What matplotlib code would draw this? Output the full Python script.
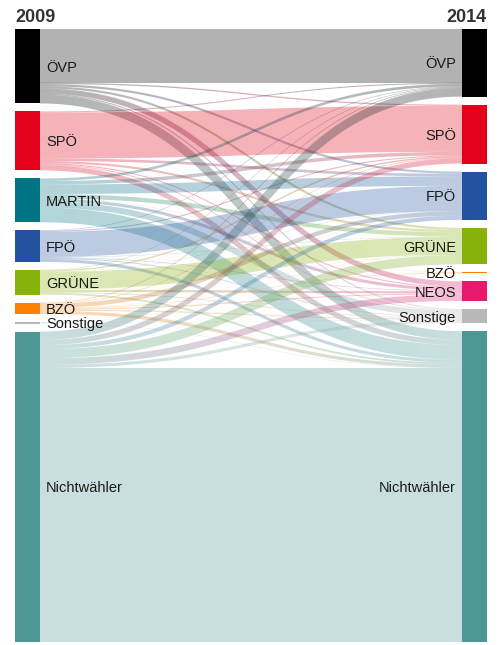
import numpy as np
import matplotlib
matplotlib.use("Agg")
import matplotlib.pyplot as plt
from matplotlib.collections import PolyCollection
from matplotlib.colors import to_rgb
from matplotlib.patches import Rectangle

# Wählerströme EU-Wahl 2009 -> 2014 (in 1000 Stimmen, geschätzt aus der Grafik)
parteien_2009 = ["ÖVP", "SPÖ", "MARTIN", "FPÖ", "GRÜNE", "BZÖ", "Sonstige", "Nichtwähler"]
parteien_2014 = ["ÖVP", "SPÖ", "FPÖ", "GRÜNE", "BZÖ", "NEOS", "Sonstige", "Nichtwähler"]
farben_2009 = ["#000000", "#e2001a", "#007482", "#2352a0", "#86b20b", "#ff8000", "#b8b8b8", "#4d9896"]
farben_2014 = ["#000000", "#e2001a", "#2352a0", "#86b20b", "#ff8000", "#e6196e", "#b8b8b8", "#4d9896"]

# Zeilen: Herkunft 2009, Spalten: Ziel 2014 (Reihenfolge wie parteien_2014)
von_oevp = [620, 15, 25, 25, 1, 60, 13, 100]
von_spoe = [12, 530, 30, 25, 1, 12, 10, 60]
von_martin = [30, 40, 110, 50, 2, 35, 69, 170]
von_fpoe = [6, 12, 290, 4, 1, 6, 10, 35]
von_gruene = [6, 15, 3, 205, 0.5, 26, 9.5, 20]
von_bzoe = [8, 6, 50, 2, 6, 10, 13, 36]
von_sonstige = [1, 2, 2, 4, 0.5, 1, 4.5, 4]
von_nichtwaehler = [97, 60, 47, 105, 1, 75, 36, 3160]

flows = np.array([von_oevp, von_spoe, von_martin, von_fpoe, von_gruene,
                  von_bzoe, von_sonstige, von_nichtwaehler], dtype=float)

W, H = 499, 645
fig = plt.figure(figsize=(W / 100, H / 100), dpi=100)
ax = fig.add_axes([0, 0, 1, 1])
ax.set_xlim(0, W)
ax.set_ylim(H, 0)
ax.axis("off")

top, bottom, pad = 29, 642, 8
xl0, xl1 = 15, 40      # Knoten links
xr0, xr1 = 462, 487    # Knoten rechts

out_tot = flows.sum(axis=1)
in_tot = flows.sum(axis=0)
ky = (bottom - top - pad * (len(out_tot) - 1)) / out_tot.sum()


def stapeln(totals):
    ys = []
    y = top
    for v in totals:
        ys.append(y)
        y += v * ky + pad
    return np.array(ys)


left_y0 = stapeln(out_tot)
right_y0 = stapeln(in_tot)

# Startpunkte der Bänder: links nach Ziel sortiert, rechts nach Herkunft sortiert
w = flows * ky
off_out = left_y0[:, None] + np.cumsum(w, axis=1) - w
off_in = right_y0[None, :] + np.cumsum(w, axis=0) - w

# Bezierkurve wie d3.sankeyLinkHorizontal, in senkrechte Streifen zerlegt
tt = np.linspace(0, 1, 2001)
uu = 1.5 * tt - 1.5 * tt ** 2 + tt ** 3
xb = np.arange(xl1, xr0 + 1, 2).astype(float)
ub = (xb - xl1) / (xr0 - xl1)
tb = np.interp(ub, uu, tt)
vb = 3 * tb ** 2 - 2 * tb ** 3
dv = 6 * tb - 6 * tb ** 2
du = 1.5 - 3 * tb + 3 * tb ** 2
um = 0.5 * (ub[:-1] + ub[1:])

polys = []
cols = []
for i in range(flows.shape[0]):
    cs = np.array(to_rgb(farben_2009[i]))
    for j in range(flows.shape[1]):
        if flows[i, j] <= 0:
            continue
        ys = off_out[i, j] + w[i, j] / 2
        yt = off_in[i, j] + w[i, j] / 2
        yc = ys + (yt - ys) * vb
        slope = dv / du * (yt - ys) / (xr0 - xl1)
        h = w[i, j] / 2 * np.sqrt(1 + slope ** 2)
        ct = np.array(to_rgb(farben_2014[j]))
        for k in range(len(xb) - 1):
            polys.append([(xb[k], yc[k] - h[k]), (xb[k + 1], yc[k + 1] - h[k + 1]),
                          (xb[k + 1], yc[k + 1] + h[k + 1]), (xb[k], yc[k] + h[k])])
            c = cs * (1 - um[k]) + ct * um[k]
            cols.append((c[0], c[1], c[2], 0.3))

ax.add_collection(PolyCollection(polys, facecolors=cols, edgecolors="none",
                                 linewidths=0, antialiased=True))

schrift = dict(fontsize=10.5, color="#1a1a1a", family=["Liberation Sans", "DejaVu Sans"])

for name, farbe, y0, v in zip(parteien_2009, farben_2009, left_y0, out_tot):
    ax.add_patch(Rectangle((xl0, y0), xl1 - xl0, v * ky, facecolor=farbe, edgecolor="none"))
    ax.text(46, y0 + v * ky / 2, name, ha="left", va="center_baseline", **schrift)

for name, farbe, y0, v in zip(parteien_2014, farben_2014, right_y0, in_tot):
    ax.add_patch(Rectangle((xr0, y0), xr1 - xr0, v * ky, facecolor=farbe, edgecolor="none"))
    ax.text(456, y0 + v * ky / 2, name, ha="right", va="center_baseline", **schrift)

jahr = dict(fontsize=13, fontweight="bold", color="#333333",
            family=["Liberation Sans", "DejaVu Sans"], va="center_baseline")
ax.text(xl0, 16, "2009", ha="left", **jahr)
ax.text(xr1, 16, "2014", ha="right", **jahr)

fig.savefig("out.png", dpi=100)
